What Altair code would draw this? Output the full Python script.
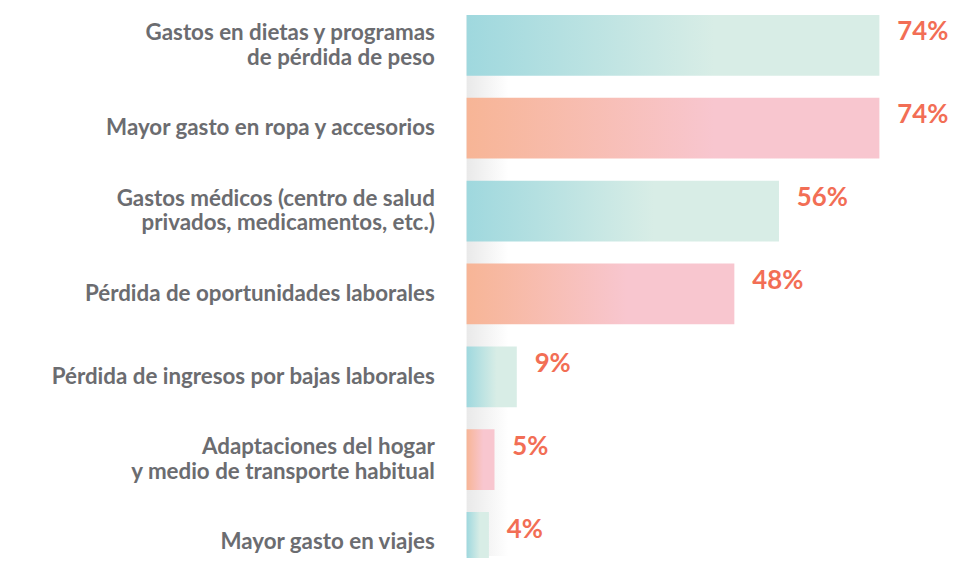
import altair as alt
import pandas as pd

categories = [
    "Gastos en dietas y programas\nde pérdida de peso",
    "Mayor gasto en ropa y accesorios",
    "Gastos médicos (centro de salud\nprivados, medicamentos, etc.)",
    "Pérdida de oportunidades laborales",
    "Pérdida de ingresos por bajas laborales",
    "Adaptaciones del hogar\ny medio de transporte habitual",
    "Mayor gasto en viajes",
]
values = [74, 74, 56, 48, 9, 5, 4]
groups = ["a", "b", "a", "b", "a", "b", "a"]

df = pd.DataFrame({"cat": categories, "value": values, "group": groups})
df["label"] = df["value"].astype(str) + "%"

W, H = 486, 545
y_scale = alt.Scale(domain=categories, range=[0, 562], paddingInner=0.267, paddingOuter=0)
x_scale = alt.Scale(domain=[0, 100], range=[0, 562])

def grad(c0, c1):
    return alt.Gradient(
        gradient="linear",
        stops=[
            alt.GradientStop(color=c0, offset=0),
            alt.GradientStop(color=c1, offset=0.6),
            alt.GradientStop(color=c1, offset=1),
        ],
        x1=0, x2=1, y1=0, y2=0,
    )

base = alt.Chart(df)

shadow = alt.Chart(pd.DataFrame({"a": [0]})).mark_rect(
    fill=alt.Gradient(
        gradient="linear",
        stops=[
            alt.GradientStop(color="#e9e9e9", offset=0),
            alt.GradientStop(color="#ffffff", offset=1),
        ],
        x1=0, x2=1, y1=0, y2=0,
    )
).encode(x=alt.value(0), x2=alt.value(42), y=alt.value(0), y2=alt.value(H))

y_enc = alt.Y("cat:N", scale=y_scale, sort=categories, axis=None)
x_enc = alt.X("value:Q", scale=x_scale, axis=None)

bars_a = base.transform_filter(alt.datum.group == "a").mark_bar(
    color=grad("#9fd8de", "#d8ede6"), cornerRadius=0
).encode(x=x_enc, y=y_enc)

bars_b = base.transform_filter(alt.datum.group == "b").mark_bar(
    color=grad("#f7b596", "#f8c6cf"), cornerRadius=0
).encode(x=x_enc, y=y_enc)

label_style = dict(
    align="right", baseline="middle", lineBreak="\n", lineHeight=25,
    font="Lato", fontSize=22.5, fontWeight="bold", color="#6b6c70",
)

cat_single = base.transform_filter(
    "indexof(datum.cat, '\\n') < 0"
).mark_text(**label_style).encode(x=alt.value(-32), y=y_enc, text="cat:N")

cat_multi = base.transform_filter(
    "indexof(datum.cat, '\\n') >= 0"
).mark_text(dy=-12.5, **label_style).encode(x=alt.value(-32), y=y_enc, text="cat:N")

val_labels = base.mark_text(
    align="left", baseline="middle", dx=18, dy=-13,
    font="Lato", fontSize=26, fontWeight="bold", color="#f26e55",
).encode(x=x_enc, y=y_enc, text="label:N")

chart = alt.layer(shadow, bars_a, bars_b, cat_single, cat_multi, val_labels).properties(
    width=W, height=H,
    autosize=alt.AutoSizeParams(type="none"),
    padding={"left": 462, "top": 5, "right": 0, "bottom": 0},
).configure_view(stroke=None)

chart.save("out.html", embed_options={"renderer": "svg", "actions": False})
